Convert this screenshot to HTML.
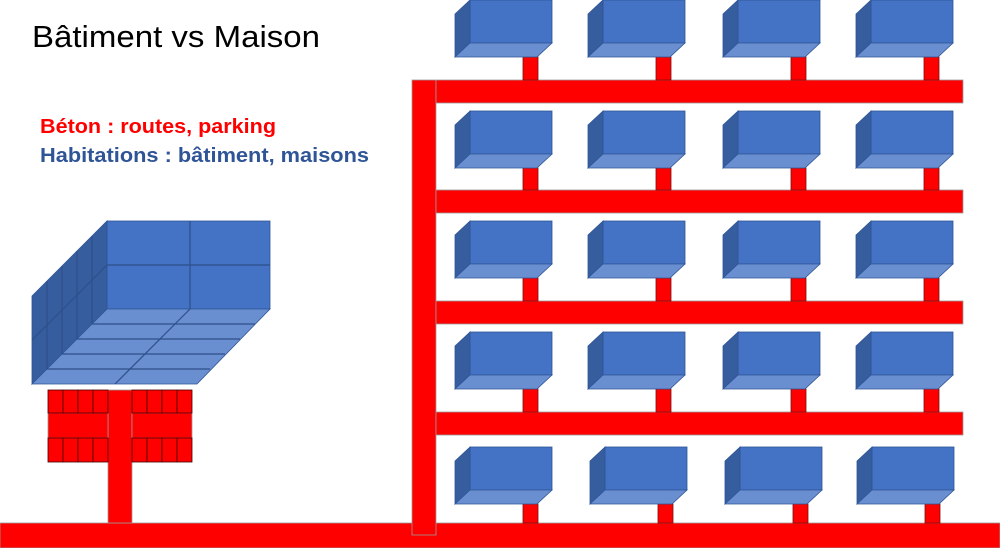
<!DOCTYPE html>
<html><head><meta charset="utf-8"><style>html,body{margin:0;padding:0;background:#fff}svg{display:block}</style></head>
<body>
<svg id="s" width="1000" height="548" viewBox="0 0 1000 548" xmlns="http://www.w3.org/2000/svg">
<text x="32" y="47" font-family="Liberation Sans, sans-serif" font-size="31" fill="#000" textLength="288" lengthAdjust="spacingAndGlyphs">Bâtiment vs Maison</text>
<text x="40" y="133" font-family="Liberation Sans, sans-serif" font-size="20" font-weight="bold" fill="#ff0000" textLength="236" lengthAdjust="spacingAndGlyphs">Béton : routes, parking</text>
<text x="40" y="162" font-family="Liberation Sans, sans-serif" font-size="20" font-weight="bold" fill="#2f5597" textLength="329" lengthAdjust="spacingAndGlyphs">Habitations : bâtiment, maisons</text>
<g id="g" stroke-width="1"></g>
</svg>
<script>
var g=document.getElementById('g'),h='';
function R(x,y,w,hh,f,s){h+='<rect x="'+x+'" y="'+y+'" width="'+w+'" height="'+hh+'" fill="'+f+'" stroke="'+(s||'#8a1f1f')+'" stroke-width="0.8"/>';}
function P(pts,f,s){h+='<polygon points="'+pts+'" fill="'+f+'" stroke="'+(s||'#2f5597')+'" stroke-width="0.8"/>';}
function L(a,b,c,d){h+='<line x1="'+a+'" y1="'+b+'" x2="'+c+'" y2="'+d+'" stroke="#2f4f8a" stroke-width="1.2"/>';}
var red='#ff0000';
// roads
R(0,523,1000,25,red,'#999');
R(412,80,24,455,red,'#999');
var bars=[80,190,301,412];
bars.forEach(function(y){R(436,y,527,23,red,'#999');});
// houses
var tops=[0,111,221,332,447];
var cols=[[470,603,738,871],[470,603,738,871],[470,603,738,871],[470,603,738,871],[470,605,740,872]];
tops.forEach(function(t,i){cols[i].forEach(function(x){
 var cy=t+57, cb=(i<4?bars[i]:523);
 R(x+53,cy,15,cb-cy,red,'#7a1010');
 R(x,t,82,43,'#4472c4','#2f5597');
 P((x-15)+','+(t+14)+' '+x+','+t+' '+x+','+(t+43)+' '+(x-15)+','+(t+57),'#365d9e');
 P(x+','+(t+43)+' '+(x+82)+','+(t+43)+' '+(x+67)+','+(t+57)+' '+(x-15)+','+(t+57),'#6a8fd0');
});});
// big building
R(107,221,163,88,'#4472c4','#2f5597');
L(190,221,190,309);L(107,265,270,265);
P('32,296 107,221 107,309 32,384','#365d9e');
for(var k=1;k<5;k++){var xx=32+75*k/5;L(xx,296-75*k/5,xx,384-75*k/5);}
L(32,340,107,265);
P('107,309 270,309 197,384 32,384','#6a8fd0');
for(var k=1;k<5;k++){var d=75*k/5;L(107-d,309+d,270-d,309+d);}
L(190,309,115,384);
// parking
R(108,390,24,133,red,'#999');
R(48,413,60,25,red,'#999');R(132,413,60,25,red,'#999');
for(var c=0;c<4;c++){R(48+15*c,390,15,23,red,'#400');R(48+15*c,438,15,24,red,'#400');R(132+15*c,390,15,23,red,'#400');R(132+15*c,438,15,24,red,'#400');}
g.innerHTML=h;
</script>
</body></html>
